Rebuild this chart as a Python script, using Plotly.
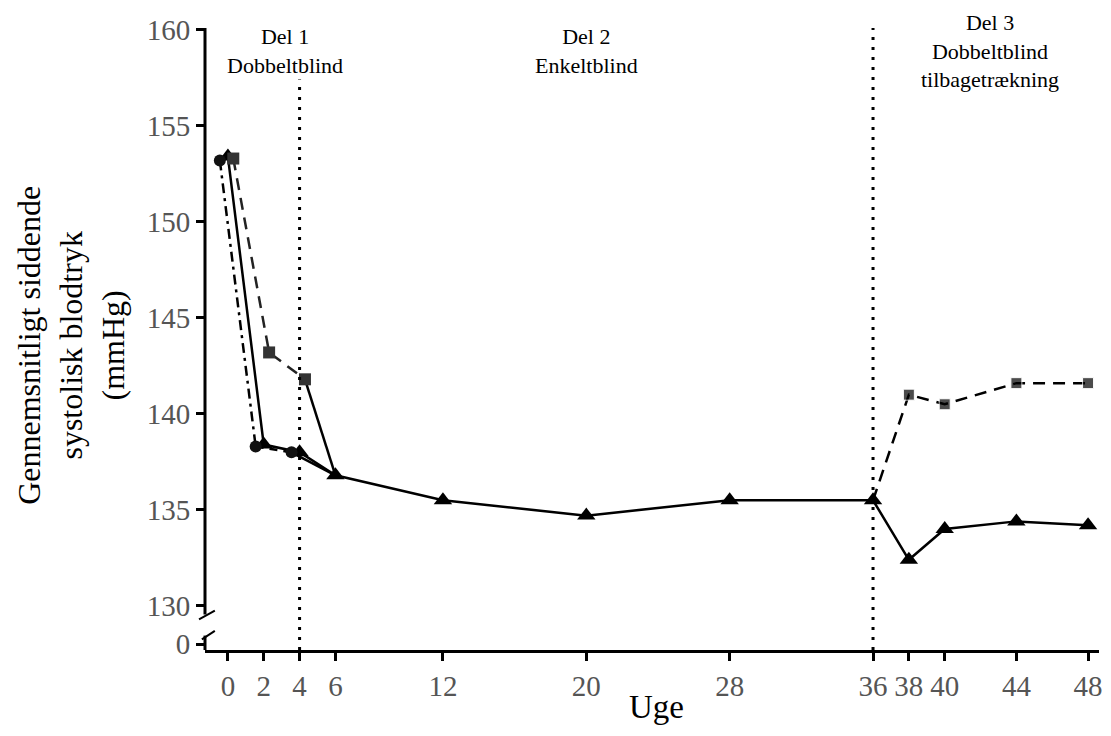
import plotly.graph_objects as go

# ---------------- data ----------------
weeks_main = [0, 2, 4, 6, 12, 20, 28, 36, 38, 40, 44, 48]
sbp_main = [153.4, 138.4, 138.0, 136.8, 135.5, 134.7, 135.5, 135.5, 132.4, 134.0, 134.4, 134.2]

weeks_circle = [0, 2, 4]
sbp_circle = [153.2, 138.3, 138.0]

weeks_square = [0, 2, 4]
sbp_square = [153.3, 143.2, 141.8]

weeks_withdraw = [36, 38, 40, 44, 48]
sbp_withdraw = [135.5, 141.0, 140.5, 141.6, 141.6]

phase_bounds = [4, 36]
phase_labels = ["Del 1<br>Dobbeltblind", "Del 2<br>Enkeltblind", "Del 3<br>Dobbeltblind<br>tilbagetrækning"]
phase_label_x = [3.2, 20, 42.5]

x_ticks = [0, 2, 4, 6, 12, 20, 28, 36, 38, 40, 44, 48]
y_ticks = [130, 135, 140, 145, 150, 155, 160]
y_zero_pos = 128  # position on the broken axis where "0" is shown

# ---------------- style ----------------
FONT = "Liberation Serif"
LW = 2.5
circle_off = -0.45
square_off = 0.3

join_week = 6
join_val = sbp_main[weeks_main.index(join_week)]

fig = go.Figure()

def seg(x, y, dash, color="black", width=LW):
    fig.add_trace(go.Scatter(x=x, y=y, mode="lines",
                             line=dict(color=color, width=width, dash=dash),
                             showlegend=False, hoverinfo="skip"))

# circle group segments
cx = [w + circle_off for w in weeks_circle]
seg(cx[0:2], sbp_circle[0:2], "10px,5px,3px,5px")
seg(cx[1:3], sbp_circle[1:3], "8px,6px")
seg([cx[2], join_week], [sbp_circle[2], join_val], "solid")

# square group segments
sx = [w + square_off for w in weeks_square]
seg(sx, sbp_square, "12px,8px", color="#222")
seg([sx[2], join_week], [sbp_square[2], join_val], "solid")

# withdrawal (dashed)
fig.add_trace(go.Scatter(x=weeks_withdraw, y=sbp_withdraw, mode="lines+markers",
                         line=dict(color="black", width=LW, dash="12px,8px"),
                         marker=dict(symbol="square", size=[0] + [11] * (len(weeks_withdraw) - 1),
                                     color="black"),
                         showlegend=False, hoverinfo="skip"))

# main solid line
fig.add_trace(go.Scatter(x=weeks_main, y=sbp_main, mode="lines+markers",
                         line=dict(color="black", width=LW),
                         marker=dict(symbol="triangle-up", size=16, color="black"),
                         showlegend=False, hoverinfo="skip"))

# group markers
fig.add_trace(go.Scatter(x=cx, y=sbp_circle, mode="markers",
                         marker=dict(symbol="circle", size=12, color="#111"),
                         showlegend=False, hoverinfo="skip"))
fig.add_trace(go.Scatter(x=sx, y=sbp_square, mode="markers",
                         marker=dict(symbol="square", size=12, color="#333"),
                         showlegend=False, hoverinfo="skip"))

Y0, Y1 = 127.7, 160.1
X0, X1 = -1.278, 48.61

shapes = []
# phase dotted lines
tops = [157.6, 160.25]
for xb, top in zip(phase_bounds, tops):
    shapes.append(dict(type="line", xref="x", yref="y", x0=xb, x1=xb, y0=Y0, y1=top,
                       line=dict(color="black", width=3, dash="3px,7px")))
# y axis line with break
shapes.append(dict(type="line", xref="paper", yref="y", x0=0, x1=0, y0=129.55, y1=160.1,
                   line=dict(color="black", width=3)))
shapes.append(dict(type="line", xref="paper", yref="y", x0=0, x1=0, y0=Y0, y1=128.45,
                   line=dict(color="black", width=3)))
# break slashes
shapes.append(dict(type="line", xref="paper", yref="y", x0=-0.0067, x1=0.011, y0=129.3, y1=129.75,
                   line=dict(color="black", width=2)))
shapes.append(dict(type="line", xref="paper", yref="y", x0=-0.0035, x1=0.011, y0=128.25, y1=128.7,
                   line=dict(color="black", width=2)))

annotations = []
for lab, lx in zip(phase_labels, phase_label_x):
    annotations.append(dict(text=lab, x=lx, xref="x", y=0.963, yref="paper",
                            xanchor="center", yanchor="middle", showarrow=False,
                            font=dict(family=FONT, size=22, color="black"),
                            bgcolor="white", align="center"))
annotations.append(dict(text="Gennemsnitligt siddende<br>systolisk blodtryk<br>(mmHg)",
                        x=-0.1503, xref="paper", y=0.49, yref="paper",
                        xanchor="center", yanchor="middle", textangle=-90, showarrow=False,
                        font=dict(family=FONT, size=32, color="black"), align="center"))
annotations.append(dict(text="Uge", x=0.5045, xref="paper", y=-0.0915, yref="paper",
                        xanchor="center", yanchor="middle", showarrow=False,
                        font=dict(family=FONT, size=33, color="black")))

# the page body adds an 8px offset; size the figure so the plot lands where the reference has it
fig.update_layout(
    width=1095, height=720,
    margin=dict(l=197, r=0, t=20, b=78),
    paper_bgcolor="white", plot_bgcolor="white",
    shapes=shapes, annotations=annotations,
    xaxis=dict(range=[X0, X1], tickvals=x_ticks, ticktext=[str(v) for v in x_ticks],
               showgrid=False, zeroline=False, showline=True, linecolor="black", linewidth=3,
               ticks="outside", ticklen=8, tickwidth=2.5, tickcolor="black",
               ticklabeloverflow="allow",
               tickfont=dict(family=FONT, size=29, color="#555")),
    yaxis=dict(range=[Y0, Y1], tickvals=[y_zero_pos] + y_ticks,
               ticktext=["0"] + [str(v) for v in y_ticks],
               showgrid=False, zeroline=False, showline=False,
               ticks="outside", ticklen=8, tickwidth=2.5, tickcolor="black",
               tickfont=dict(family=FONT, size=29, color="#555")),
)

fig.write_html("out.html")
